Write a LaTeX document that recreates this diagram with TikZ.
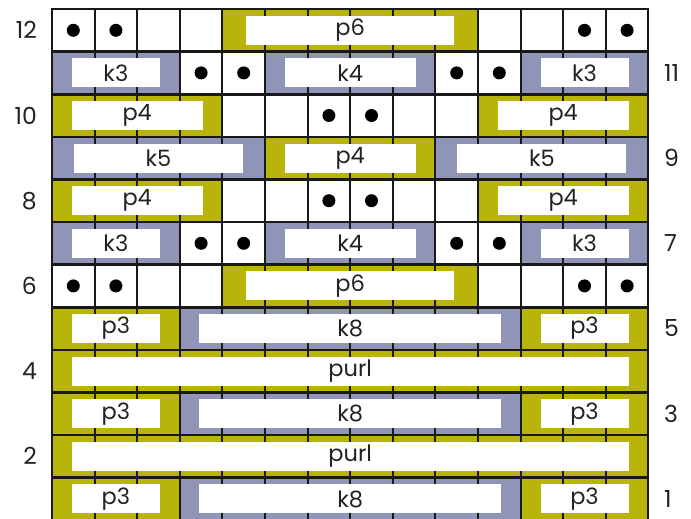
\documentclass[tikz,border=0pt]{standalone}
\usepackage{fontspec}
\setmainfont{Poppins}
\definecolor{pcol}{HTML}{B8B40A}
\definecolor{kcol}{HTML}{9094B6}
\definecolor{txtcol}{HTML}{222222}
\begin{document}
\begin{tikzpicture}[x=1pt,y=-1pt,
  lbl/.style={fill=white,inner sep=0pt,minimum height=29pt,text=txtcol,font=\fontsize{22.5}{26}\selectfont},
  stdot/.style={circle,fill=black,inner sep=0pt,minimum size=13pt},
  rownum/.style={inner sep=0pt,text=txtcol,font=\fontsize{23.5}{27}\selectfont},
  vline/.style={line width=2pt,black!90},
  hline/.style={line width=2.6pt,black!90}]
\useasboundingbox (0,0) rectangle (691,519);
\def\blocks{12/5/10/pcol/p6/208,
  11/1/3/kcol/k3/88, 11/6/9/kcol/k4/131, 11/12/14/kcol/k3/88,
  10/1/4/pcol/p4/131, 10/11/14/pcol/p4/131,
  9/1/5/kcol/k5/169, 9/6/9/pcol/p4/131, 9/10/14/kcol/k5/169,
  8/1/4/pcol/p4/131, 8/11/14/pcol/p4/131,
  7/1/3/kcol/k3/88, 7/6/9/kcol/k4/131, 7/12/14/kcol/k3/88,
  6/5/10/pcol/p6/208,
  5/1/3/pcol/p3/88, 5/4/11/kcol/k8/302, 5/12/14/pcol/p3/88,
  4/1/14/pcol/purl/557,
  3/1/3/pcol/p3/88, 3/4/11/kcol/k8/302, 3/12/14/pcol/p3/88,
  2/1/14/pcol/purl/557,
  1/1/3/pcol/p3/88, 1/4/11/kcol/k8/302, 1/12/14/pcol/p3/88}
% colour fills
\foreach \r/\a/\b/\c/\t/\w in \blocks {
  \fill[\c] ({52+(\a-1)*42.6},{9+(12-\r)*42.6}) rectangle ({52+\b*42.6},{9+(13-\r)*42.6});
}
% grid
\foreach \i in {0,...,14} {
  \draw[vline] ({52+\i*42.6},9) -- ({52+\i*42.6},520.2);
}
\foreach \j in {0,...,12} {
  \draw[hline] (51,{9+\j*42.6}) -- (649.4,{9+\j*42.6});
}
% labels
\foreach \r/\a/\b/\c/\t/\w in \blocks {
  \node[lbl,minimum width=\w pt] (b\r-\a) at ({52+(\a-1+\b)/2*42.6},{9+(12.5-\r)*42.6}) {\t};
}
% dots
\foreach \r/\c in {12/1,12/2,12/13,12/14,6/1,6/2,6/13,6/14,
                   11/4,11/5,11/10,11/11,7/4,7/5,7/10,7/11,
                   10/7,10/8,8/7,8/8} {
  \node[stdot] (d\r-\c) at ({52+(\c-0.5)*42.6},{9+(12.5-\r)*42.6}) {};
}
% row numbers
\foreach \r in {12,10,8,6,4,2} {
  \node[rownum,anchor=east] (n\r) at (37,{9+(12.5-\r)*42.6}) {\r};
}
\foreach \r in {11,9,7,5,3,1} {
  \node[rownum,anchor=west] (n\r) at (664,{9+(12.5-\r)*42.6}) {\r};
}
\end{tikzpicture}
\end{document}
